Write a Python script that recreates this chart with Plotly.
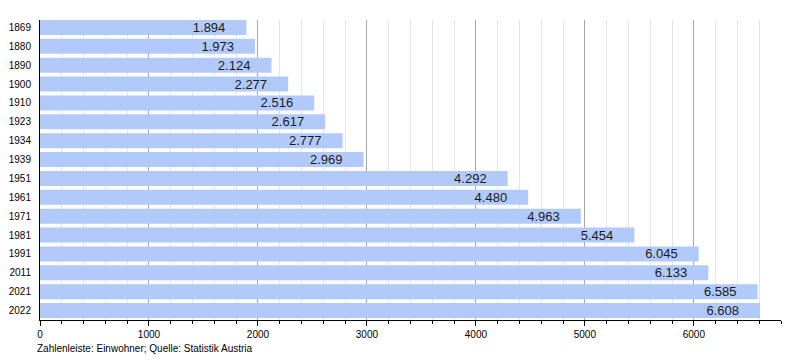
import plotly.graph_objects as go

years = ["1869", "1880", "1890", "1900", "1910", "1923", "1934", "1939",
         "1951", "1961", "1971", "1981", "1991", "2011", "2021", "2022"]
population = [1894, 1973, 2124, 2277, 2516, 2617, 2777, 2969,
              4292, 4480, 4963, 5454, 6045, 6133, 6585, 6608]
x_ticks = [0, 1000, 2000, 3000, 4000, 5000, 6000]
caption = "Zahlenleiste: Einwohner; Quelle: Statistik Austria"

labels = [f"{v:,}".replace(",", ".") + "\u00a0" * 5 for v in population]

fig = go.Figure(go.Bar(
    x=population, y=years, orientation="h",
    marker=dict(color="rgb(178,202,250)", line=dict(width=0)),
    text=labels, textposition="inside", insidetextanchor="end",
    textangle=0, insidetextfont=dict(size=13, color="#1a1a1a"),
    cliponaxis=False, hoverinfo="x+y",
))

# page body adds an 8px margin, so the figure is 792x352 with margins reduced by 8
fig.update_layout(
    width=792, height=352,
    margin=dict(l=32, r=19, t=12, b=40, autoexpand=False),
    paper_bgcolor="white", plot_bgcolor="white",
    font=dict(family="Liberation Sans, Arial, sans-serif", size=10, color="#000"),
    bargap=0.205, showlegend=False,
    uniformtext=dict(minsize=13, mode="show"),
    xaxis=dict(
        range=[0, 6800], tickvals=x_ticks, tickformat="d",
        showgrid=True, gridcolor="#a6a6a6", gridwidth=1,
        ticks="outside", ticklen=5, tickcolor="#000", tickwidth=1,
        showline=True, linecolor="#000", linewidth=1,
        zeroline=False, automargin=False,
        minor=dict(dtick=200, tick0=0, showgrid=True, gridcolor="#e4e4e4",
                   ticks="outside", ticklen=3, tickcolor="#000"),
        tickfont=dict(size=10),
    ),
    yaxis=dict(
        type="category", categoryorder="array", categoryarray=years,
        range=[15.503, -0.397], automargin=False,
        showgrid=False, showline=True, linecolor="#000", linewidth=1,
        ticks="outside", ticklen=6, tickcolor="rgba(0,0,0,0)",
        tickfont=dict(size=10), zeroline=False,
    ),
    annotations=[dict(
        text=caption, xref="paper", yref="paper",
        x=-0.00675, y=-0.096, xanchor="left", yanchor="middle",
        showarrow=False, font=dict(size=10),
    )],
)

fig.write_html("out.html")
